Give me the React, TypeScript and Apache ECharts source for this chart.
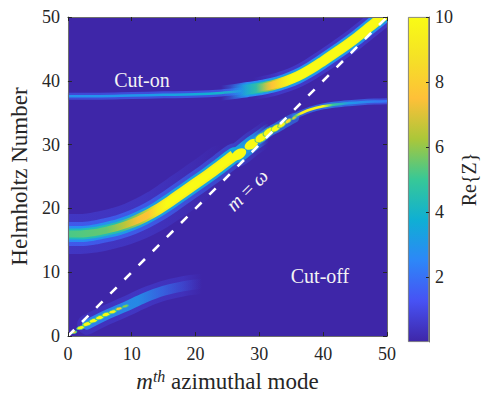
import { useEffect, useRef } from "react";
import * as echarts from "echarts";

// ---------------- data ----------------
const xTicks = [0, 10, 20, 30, 40, 50];
const yTicks = [0, 10, 20, 30, 40, 50];
const axisRange = [0, 50];
const colorRange = [0, 10];
const colorbarTicks = [2, 4, 6, 8, 10];

// ridge centre lines: [m, Helmholtz number]
const lowerBranch = [[0, 16.0], [2, 16.0], [4, 16.2], [6, 16.6], [8, 17.1], [10, 17.8], [12, 18.7], [14, 19.8], [16, 21.1], [18, 22.5], [20, 23.9], [22, 25.3], [24, 26.8], [26, 28.3]];
const lowerBeads = [[26.8, 28.5], [28.75, 30.05], [30.3, 31.1], [31.5, 32.0], [32.6, 32.6], [33.5, 33.1], [34.5, 33.7], [35.45, 34.2]];
const lowerTail = [[35.5, 34.4], [36.5, 34.9], [38, 35.5], [40, 36.0], [42, 36.3], [44, 36.5], [46, 36.65], [48, 36.75], [50, 36.8]];
const upperFlat = [[0, 37.6], [5, 37.6], [10, 37.7], [15, 37.8], [20, 37.9], [24, 38.1], [27, 38.4]];
const upperRise = [[22, 38.0], [24, 38.1], [26, 38.3], [28, 38.6], [30, 38.9], [32, 39.3], [34, 39.9], [36, 40.7], [38, 41.8], [40, 43.1], [42.5, 44.8], [45, 46.6], [47.5, 48.6], [50, 50.6]];
const bottomBeads = [[1, 0.6], [2, 1.3], [3, 1.9], [4, 2.4], [5, 2.9], [6, 3.4], [7, 3.8], [8, 4.3], [9, 4.7]];
const bottomGlow = [[0, 0], [3, 1.8], [6, 3.3], [9, 4.6], [12, 6.0], [15, 7.1], [18, 7.8], [21, 8.2]];
const diagonal = [[0, 0], [50, 50]];

const lowerBeadZ = [10, 10, 10, 10, 10, 9.5, 8.5, 7];
const bottomBeadZ = [8, 10, 10, 10, 10, 10, 9.5, 8, 6];

// ---------------- styles ----------------
const SERIF = "Liberation Serif";
const INK = "#262626";
const AXIS_LINE = "#6e6e6e";
const MAIN_GRID = { left: 63, top: 17, width: 324, height: 325 };
const BAR_GRID = { left: 408, top: 17, width: 21, height: 325 };
const lowerBeadSize = [[16, 10], [15, 9], [14, 8], [13, 7], [11, 6], [9, 4.5], [7, 3.5], [5, 2.5]];
const lowerBeadRim = [0, 0, 0.8, 0.8, 0.8, 0.8, 0.8, 0.8];
const bottomBeadSize = [[5, 2.5], [8, 3.5], [9, 4], [9, 4], [9, 4], [9, 4], [8, 3.5], [7, 3], [6, 2.5]];

const PARULA: [number, number[]][] = [
  [0, [62, 38, 168]],
  [0.125, [71, 82, 244]],
  [0.25, [45, 135, 248]],
  [0.375, [15, 175, 212]],
  [0.5, [55, 200, 151]],
  [0.625, [171, 199, 57]],
  [0.75, [254, 192, 56]],
  [0.875, [245, 225, 38]],
  [1, [249, 251, 21]],
];

function parula(v: number, a = 1) {
  const t = Math.max(0, Math.min(1, (v - colorRange[0]) / (colorRange[1] - colorRange[0])));
  let i = 0;
  while (i < PARULA.length - 2 && t > PARULA[i + 1][0]) i++;
  const [t0, c0] = PARULA[i];
  const [t1, c1] = PARULA[i + 1];
  const f = (t - t0) / (t1 - t0);
  const c = c0.map((v0, k) => Math.round(v0 + (c1[k] - v0) * f));
  return `rgba(${c[0]},${c[1]},${c[2]},${a})`;
}

export default function App() {
  const ref = useRef<HTMLDivElement>(null);

  useEffect(() => {
    if (!ref.current) return;
    const chart = echarts.init(ref.current, undefined, { renderer: "svg" });

    const axisCommon = {
      type: "value" as const,
      min: axisRange[0],
      max: axisRange[1],
      interval: 10,
      z: 10,
      splitLine: { show: false },
      axisLine: { show: true, onZero: false, lineStyle: { color: AXIS_LINE, width: 1 } },
    };

    const base: any = {
      animation: false,
      backgroundColor: "#ffffff",
      textStyle: { fontFamily: SERIF },
      grid: [
        { ...MAIN_GRID, show: true, backgroundColor: parula(0), borderWidth: 0 },
        { ...BAR_GRID },
      ],
      xAxis: [
        {
          ...axisCommon,
          gridIndex: 0,
          position: "bottom",
          axisTick: { show: true, inside: true, length: 4, customValues: xTicks, lineStyle: { color: INK } },
          axisLabel: { customValues: xTicks, fontFamily: SERIF, fontSize: 18, color: INK, margin: 9 },
          name: "{i|m}{s|th} azimuthal mode",
          nameLocation: "middle",
          nameGap: 31,
          nameTextStyle: {
            fontFamily: SERIF,
            fontSize: 23,
            color: INK,
            rich: {
              i: { fontFamily: SERIF, fontSize: 23, fontStyle: "italic", color: INK, lineHeight: 27 },
              s: { fontFamily: SERIF, fontSize: 16, fontStyle: "italic", color: INK, verticalAlign: "top", lineHeight: 16 },
            },
          },
        },
        {
          ...axisCommon,
          gridIndex: 0,
          position: "top",
          axisTick: { show: true, inside: true, length: 4, customValues: xTicks, lineStyle: { color: INK } },
          axisLabel: { show: false },
        },
        { gridIndex: 1, type: "category", data: [""], show: false },
      ],
      yAxis: [
        {
          ...axisCommon,
          gridIndex: 0,
          position: "left",
          axisTick: { show: true, inside: true, length: 4, customValues: yTicks, lineStyle: { color: INK } },
          axisLabel: { customValues: yTicks, fontFamily: SERIF, fontSize: 18, color: INK, margin: 8 },
          name: "Helmholtz Number",
          nameLocation: "middle",
          nameGap: 35,
          nameTextStyle: { fontFamily: SERIF, fontSize: 23, color: INK },
        },
        {
          ...axisCommon,
          gridIndex: 0,
          position: "right",
          axisTick: { show: true, inside: true, length: 4, customValues: yTicks, lineStyle: { color: INK } },
          axisLabel: { show: false },
        },
        {
          gridIndex: 1,
          type: "value",
          min: colorRange[0],
          max: colorRange[1],
          interval: 2,
          position: "right",
          z: 10,
          splitLine: { show: false },
          axisLine: { show: true, lineStyle: { color: AXIS_LINE, width: 1 } },
          axisTick: { show: true, inside: true, length: 3, customValues: colorbarTicks, lineStyle: { color: INK } },
          axisLabel: { customValues: colorbarTicks, fontFamily: SERIF, fontSize: 18, color: INK, margin: 6 },
          name: "Re{Z}",
          nameLocation: "middle",
          nameRotate: 90,
          nameGap: 30,
          nameTextStyle: { fontFamily: SERIF, fontSize: 20, color: INK },
        },
      ],
    };
    chart.setOption(base);

    const px = (m: number) => chart.convertToPixel({ xAxisIndex: 0 }, m) as number;
    const grad = (data: number[][], stops: number[][]) => {
      const m0 = data[0][0];
      const m1 = data[data.length - 1][0];
      return new echarts.graphic.LinearGradient(
        px(m0), 0, px(m1), 0,
        stops.map(([m, v, a]) => ({
          offset: Math.max(0, Math.min(1, (m - m0) / (m1 - m0))),
          color: parula(v, a === undefined ? 1 : a),
        })),
        true
      );
    };
    const layer = (data: number[][], width: number, stops: number[][], z = 3, cap = "round") => ({
      type: "line",
      xAxisIndex: 0,
      yAxisIndex: 0,
      data,
      symbol: "none",
      smooth: 0.35,
      silent: true,
      z,
      lineStyle: { width, cap, join: "round", color: grad(data, stops) },
    });
    const from = (data: number[][], m: number) => data.filter((p) => p[0] >= m);
    const upTo = (data: number[][], m: number) => data.filter((p) => p[0] <= m);
    const lowerRidge = [...lowerBranch, ...lowerBeads];

    const series: any[] = [
      // bottom ridge glow
      layer(from(bottomGlow, 3), 20, [[3, 1.2, 0.25], [10, 1.3, 0.35], [18, 1.2, 0.25], [21, 1.2, 0]], 2),
      layer(from(bottomGlow, 3), 10, [[3, 2.6, 0.9], [11, 3.0, 0.85], [15, 2.4, 0.55], [21, 1.8, 0]], 2),
      // lower branch
      layer(upTo(lowerBranch, 24), 40, [[0, 1.3, 0.35], [12, 1.3, 0.3], [20, 1.3, 0.12], [24, 1.3, 0]], 2),
      layer(upTo(lowerRidge, 32), 24, [[0, 1.6, 0.8], [12, 1.8, 0.7], [26, 1.8, 0.4], [31.5, 1.8, 0]], 2),
      layer(upTo(lowerRidge, 32), 16, [[0, 2.6, 1], [12, 3.2, 1], [26, 3.4, 1], [29, 3.0, 0.8], [31.5, 2.8, 0]], 3),
      layer(lowerBranch, 11, [[0, 4.2, 1], [8, 4.5, 1], [11, 6, 1], [14, 8.8, 1], [16, 9.5, 1], [26, 9.5, 1]], 3, "butt"),
      layer(lowerBranch, 7, [[0, 5.2, 1], [6, 5.5, 1], [9, 6.5, 1], [11, 7.4, 1], [12.5, 7.7, 1], [14, 9.2, 1], [15.5, 10, 1], [26, 10, 1]], 3, "butt"),
      layer(lowerBeads, 10, [[26.8, 3.2, 0.95], [35.45, 2.6, 0.5]], 3),
      // branch that continues towards H ~ 37
      layer(lowerTail, 6, [[35.5, 2.4, 0.5], [41, 2.6, 0.75], [50, 1.6, 0.6]], 3),
      layer(lowerTail, 2.6, [[35.5, 5, 1], [36.5, 9.5, 1], [40, 10, 1], [41.5, 5, 1], [44, 3, 1], [50, 2, 1]], 3),
      // upper (cut-on) branch
      layer(upperFlat, 7, [[0, 1.5, 0.6], [27, 1.8, 0.7]], 3),
      layer(upperFlat, 2.5, [[0, 2.8, 1], [12, 3.0, 1], [22, 3.8, 1], [27, 4.3, 1]], 3),
      layer(upperRise, 22, [[22, 1.3, 0], [29, 1.3, 0], [33, 1.3, 0.4], [50, 1.3, 0.35]], 3, "butt"),
      layer(upperRise, 15, [[22, 2.4, 0], [24, 2.4, 0], [28, 2.6, 1], [50, 2.7, 1]], 3, "butt"),
      layer(upperRise, 12, [[22, 3.2, 0], [25.5, 3.2, 0], [29, 3.6, 1], [50, 3.6, 1]], 3, "butt"),
      layer(upperRise, 10, [[22, 4.4, 0], [27, 4.4, 0], [30.5, 5.2, 1], [32, 6.4, 1], [33.5, 8.6, 1], [35, 9.6, 1], [50, 9.6, 1]], 3, "butt"),
      layer(upperRise, 7.5, [[22, 7, 0], [29.5, 7, 0], [32, 7.6, 1], [33.5, 9, 1], [35, 10, 1], [50, 10, 1]], 3, "butt"),
      // beads
      {
        type: "scatter",
        xAxisIndex: 0,
        yAxisIndex: 0,
        silent: true,
        z: 4,
        symbol: "circle",
        symbolRotate: 32,
        symbolSize: (_v: any, p: any) => lowerBeadSize[p.dataIndex],
        data: lowerBeads.map((p, i) => ({
          value: p,
          itemStyle: {
            color: parula(lowerBeadZ[i]),
            borderColor: parula(5.5),
            borderWidth: lowerBeadRim[i],
            opacity: 1,
          },
        })),
      },
      {
        type: "scatter",
        xAxisIndex: 0,
        yAxisIndex: 0,
        silent: true,
        z: 4,
        symbol: "circle",
        symbolRotate: 15,
        symbolSize: (_v: any, p: any) => bottomBeadSize[p.dataIndex],
        data: bottomBeads.map((p, i) => ({
          value: p,
          itemStyle: { color: parula(bottomBeadZ[i]), borderColor: parula(5), borderWidth: 0.8, opacity: 1 },
        })),
      },
      // m = omega
      {
        type: "line",
        xAxisIndex: 0,
        yAxisIndex: 0,
        data: diagonal,
        symbol: "none",
        silent: true,
        z: 6,
        lineStyle: { color: "#ffffff", width: 2.6, type: [9, 11], cap: "butt" },
      },
      // white frame hiding the parts of wide strokes that leave the plot box
      {
        type: "custom",
        xAxisIndex: 0,
        yAxisIndex: 0,
        data: [[0, 0]],
        silent: true,
        clip: false,
        z: 8,
        renderItem: (params: any, api: any) => {
          const cs = params.coordSys;
          const H = api.getHeight();
          const right = cs.x + cs.width;
          const bottom = cs.y + cs.height;
          const gapEnd = BAR_GRID.left - 1;
          const white = { fill: "#ffffff" };
          return {
            type: "group",
            children: [
              { type: "rect", shape: { x: 0, y: 0, width: cs.x, height: H }, style: white },
              { type: "rect", shape: { x: 0, y: 0, width: gapEnd, height: cs.y }, style: white },
              { type: "rect", shape: { x: right, y: 0, width: gapEnd - right, height: H }, style: white },
              { type: "rect", shape: { x: 0, y: bottom, width: gapEnd, height: H - bottom }, style: white },
            ],
          };
        },
      },
      // colour bar
      {
        type: "bar",
        xAxisIndex: 2,
        yAxisIndex: 2,
        data: [colorRange[1]],
        barWidth: "100%",
        silent: true,
        itemStyle: {
          borderColor: AXIS_LINE,
          borderWidth: 0.8,
          color: new echarts.graphic.LinearGradient(0, 1, 0, 0,
            PARULA.map(([t]) => ({ offset: t, color: parula(colorRange[0] + t * (colorRange[1] - colorRange[0])) }))),
        },
      },
    ];

    const label = (text: string, x: number, y: number, rotation = 0, rich?: any) => ({
      type: "text",
      z: 20,
      x,
      y,
      rotation,
      silent: true,
      style: {
        text,
        fill: "#f4f4f4",
        fontFamily: SERIF,
        fontSize: 20,
        align: "center",
        verticalAlign: "middle",
        textAlign: "center",
        textVerticalAlign: "middle",
        rich,
      },
    });

    chart.setOption({
      series,
      graphic: [
        label("Cut-on", 142, 80),
        label("Cut-off", 320, 276),
        label("{i|m} = {i|ω}", 247, 190, Math.PI / 4, {
          i: { fontFamily: SERIF, fontSize: 20, fontStyle: "italic", fill: "#f4f4f4" },
        }),
      ],
    });

    return () => chart.dispose();
  }, []);

  return <div ref={ref} style={{ position: "fixed", left: 0, top: 0, width: 482, height: 398 }} />;
}
